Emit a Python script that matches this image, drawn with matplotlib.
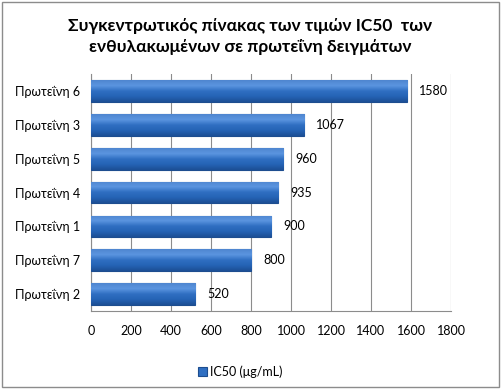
import matplotlib.pyplot as plt
from matplotlib.patches import Rectangle
from matplotlib.colors import LinearSegmentedColormap
import numpy as np

plt.rcParams['font.family'] = ['Lato', 'DejaVu Sans']

# data, top to bottom as in the chart
proteins = ['Πρωτεΐνη 6', 'Πρωτεΐνη 3', 'Πρωτεΐνη 5', 'Πρωτεΐνη 4',
            'Πρωτεΐνη 1', 'Πρωτεΐνη 7', 'Πρωτεΐνη 2']
ic50 = [1580, 1067, 960, 935, 900, 800, 520]
series_name = 'IC50 (μg/mL)'
xticks = [0, 200, 400, 600, 800, 1000, 1200, 1400, 1600, 1800]

fig = plt.figure(figsize=(5.01, 3.89), dpi=100)
fig.patches.append(Rectangle((0.004, 0.004), 0.992, 0.992, transform=fig.transFigure,
                             fill=False, edgecolor='#8c8c8c', linewidth=1))
ax = fig.add_axes([0.1816, 0.2005, 0.7186, 0.609])

y = np.arange(len(proteins))
bh = 0.64
bars = ax.barh(y, ic50, height=bh, color='#2f6fc2', edgecolor='#1d4d8f',
               linewidth=0.8, zorder=3)

# vertical gradient inside each bar (glossy excel look)
cmap = LinearSegmentedColormap.from_list('gloss', ['#4f86cf', '#5b95e0', '#2f6fc2', '#2563b5', '#1c4f95'])
grad = np.linspace(0, 1, 64).reshape(-1, 1)
for b in bars:
    im = ax.imshow(grad, cmap=cmap, aspect='auto', zorder=3.5,
                   extent=(b.get_x(), b.get_x() + b.get_width(),
                           b.get_y() + b.get_height(), b.get_y()))
    im.set_clip_path(b)

for yi, v in zip(y, ic50):
    ax.text(v + 60, yi, str(v), va='center', ha='left', fontsize=9, color='black')

ax.set_xlim(0, 1800)
ax.set_ylim(len(proteins) - 0.5, -0.5)
ax.set_xticks(xticks)
ax.set_yticks(y)
ax.set_yticklabels(proteins, fontsize=9)
ax.tick_params(axis='x', labelsize=9, length=0, pad=10)
ax.tick_params(axis='y', length=0, pad=8)
ax.grid(axis='x', color='#8c8c8c', linewidth=0.8, zorder=0)
for s in ['top', 'right']:
    ax.spines[s].set_visible(False)
ax.spines['left'].set_color('#8c8c8c')
ax.spines['bottom'].set_color('#8c8c8c')

fig.text(0.5, 0.906, 'Συγκεντρωτικός πίνακας των τιμών IC50  των\nενθυλακωμένων σε πρωτεΐνη δειγμάτων',
         ha='center', va='center', fontsize=12.5, fontweight='bold', linespacing=1.35)

ax.legend([bars], [series_name], loc='center', bbox_to_anchor=(0.48, 0.045),
          bbox_transform=fig.transFigure, frameon=False, fontsize=9,
          handlelength=0.7, handleheight=0.7, handletextpad=0.3)

fig.savefig('out.png', dpi=100)
